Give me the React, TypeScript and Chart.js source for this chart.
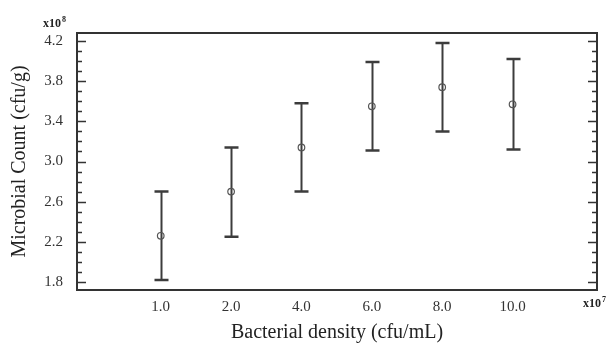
import React, { useEffect, useRef } from "react";
import { Chart, registerables } from "chart.js";

Chart.register(...registerables);

const xLabels = ["1.0", "2.0", "4.0", "6.0", "8.0", "10.0"];
const xIndex = [1, 2, 3, 4, 5, 6];
const means = [2.26, 2.7, 3.14, 3.55, 3.74, 3.57];
const upper = [2.7, 3.14, 3.58, 3.99, 4.18, 4.02];
const lower = [1.82, 2.25, 2.7, 3.11, 3.3, 3.12];
const yMajorTicks = [1.8, 2.2, 2.6, 3.0, 3.4, 3.8, 4.2];
const yMinorTicks = [1.9, 2.0, 2.1, 2.3, 2.4, 2.5, 2.7, 2.8, 2.9, 3.1, 3.2, 3.3, 3.5, 3.6, 3.7, 3.9, 4.0, 4.1];

const SERIF = "'Liberation Serif', 'Times New Roman', serif";
const INK = "#333333";

const decorPlugin = {
  id: "decor",
  beforeDatasetsDraw(chart: any) {
    const { ctx, scales } = chart;
    const x = scales.x;
    const y = scales.y;
    ctx.save();
    ctx.strokeStyle = "#3c3c3c";
    for (let i = 0; i < xIndex.length; i++) {
      const px = Math.round(x.getPixelForValue(xIndex[i])) + 0.5;
      const pt = y.getPixelForValue(upper[i]);
      const pb = y.getPixelForValue(lower[i]);
      ctx.lineWidth = 2;
      ctx.beginPath();
      ctx.moveTo(px, pt);
      ctx.lineTo(px, pb);
      ctx.stroke();
      ctx.lineWidth = 2.5;
      ctx.beginPath();
      ctx.moveTo(px - 7, pt);
      ctx.lineTo(px + 7, pt);
      ctx.moveTo(px - 7, pb);
      ctx.lineTo(px + 7, pb);
      ctx.stroke();
    }
    ctx.restore();
  },
  afterDraw(chart: any) {
    const { ctx, chartArea, scales } = chart;
    const y = scales.y;
    const { left, right, top, bottom } = chartArea;
    ctx.save();
    ctx.strokeStyle = INK;
    ctx.lineWidth = 2;
    ctx.strokeRect(left, top, right - left, bottom - top);
    ctx.lineWidth = 1.5;
    ctx.beginPath();
    for (const v of yMajorTicks) {
      const py = Math.round(y.getPixelForValue(v)) + 0.5;
      ctx.moveTo(left, py);
      ctx.lineTo(left + 9, py);
      ctx.moveTo(right, py);
      ctx.lineTo(right - 9, py);
    }
    for (const v of yMinorTicks) {
      const py = Math.round(y.getPixelForValue(v)) + 0.5;
      ctx.moveTo(left, py);
      ctx.lineTo(left + 5, py);
      ctx.moveTo(right, py);
      ctx.lineTo(right - 5, py);
    }
    ctx.stroke();
    ctx.fillStyle = "#222";
    ctx.textBaseline = "alphabetic";
    ctx.textAlign = "left";
    ctx.font = `bold 12px ${SERIF}`;
    ctx.fillText("x10", 43, 27);
    const w8 = ctx.measureText("x10").width;
    ctx.font = `bold 8px ${SERIF}`;
    ctx.fillText("8", 43 + w8 + 1, 22);
    ctx.font = `bold 12px ${SERIF}`;
    ctx.fillText("x10", 583, 307);
    const w7 = ctx.measureText("x10").width;
    ctx.font = `bold 8px ${SERIF}`;
    ctx.fillText("7", 583 + w7 + 1, 302);
    ctx.restore();
  },
};

export default function App() {
  const ref = useRef<HTMLCanvasElement>(null);
  useEffect(() => {
    const canvas = ref.current;
    if (!canvas) return;
    const chart = new Chart(canvas, {
      type: "scatter",
      data: {
        datasets: [
          {
            data: xIndex.map((xi, i) => ({ x: xi, y: means[i] })),
            pointStyle: "circle",
            pointRadius: 3.3,
            pointBorderWidth: 1.2,
            pointBackgroundColor: "rgba(0,0,0,0)",
            pointBorderColor: "#555",
            showLine: false,
          },
        ],
      },
      options: {
        animation: false,
        responsive: false,
        maintainAspectRatio: false,
        layout: { padding: { top: 33, right: 14, left: 0, bottom: 0 } },
        plugins: { legend: { display: false }, tooltip: { enabled: false } },
        scales: {
          x: {
            type: "linear",
            min: -0.19,
            max: 7.2,
            grid: { display: false, drawTicks: false },
            border: { display: false },
            afterBuildTicks: (scale: any) => {
              scale.ticks = xIndex.map((v) => ({ value: v }));
            },
            afterFit: (scale: any) => {
              scale.height = 55;
            },
            ticks: {
              padding: 8,
              color: INK,
              font: { family: SERIF, size: 15 },
              maxRotation: 0,
              autoSkip: false,
              callback: (v: any) => xLabels[Math.round(Number(v)) - 1] ?? "",
            },
            title: {
              display: true,
              text: "Bacterial density (cfu/mL)",
              color: "#222",
              font: { family: SERIF, size: 20 },
              padding: { top: 0, bottom: 0 },
            },
          },
          y: {
            type: "linear",
            min: 1.72,
            max: 4.28,
            grid: { display: false, drawTicks: false },
            border: { display: false },
            afterBuildTicks: (scale: any) => {
              scale.ticks = yMajorTicks.map((v) => ({ value: v }));
            },
            afterFit: (scale: any) => {
              scale.width = 77;
            },
            ticks: {
              padding: 14,
              color: INK,
              font: { family: SERIF, size: 15 },
              callback: (v: any) => Number(v).toFixed(1),
            },
            title: {
              display: true,
              text: "Microbial Count (cfu/g)",
              color: "#222",
              font: { family: SERIF, size: 20 },
              padding: { top: 8, bottom: 0 },
            },
          },
        },
      },
      plugins: [decorPlugin],
    });
    return () => chart.destroy();
  }, []);
  return (
    <div style={{ position: "fixed", left: 0, top: 0, width: 611, height: 345, background: "#fff" }}>
      <canvas ref={ref} width={611} height={345} style={{ display: "block", width: 611, height: 345 }} />
    </div>
  );
}
